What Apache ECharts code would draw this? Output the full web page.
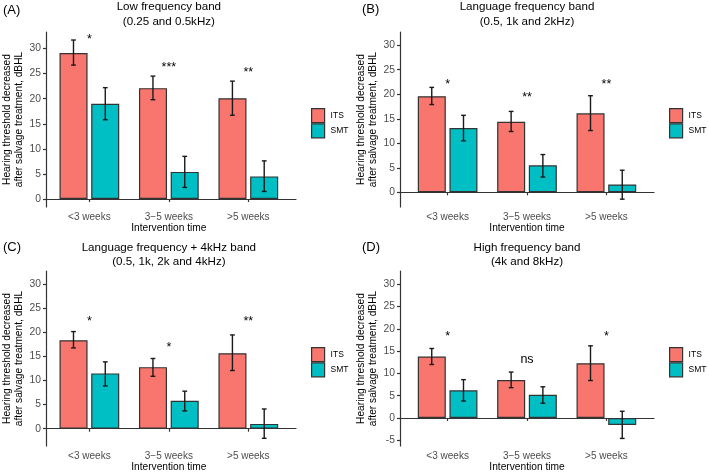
<!DOCTYPE html>
<html>
<head>
<meta charset="utf-8">
<script src="https://cdn.jsdelivr.net/npm/echarts@6/dist/echarts.min.js"></script>
<style>html,body{margin:0;padding:0;background:#fff;}#chart{width:709px;height:473px;}</style>
</head>
<body>
<div id="chart"></div>
<script>
// ---------- data ----------
var categories = ['<3 weeks', '3\u22125 weeks', '>5 weeks'];
var groups = ['ITS', 'SMT'];
var yTicks = [0, 5, 10, 15, 20, 25, 30];
var yTicksD = [-5, 0, 5, 10, 15, 20, 25, 30];

var titleA = 'Low frequency band\n(0.25 and 0.5kHz)';
var itsA = [29.1, 22.1, 20.1];
var itsLoA = [26.7, 19.8, 16.7];
var itsHiA = [31.7, 24.5, 23.5];
var smtA = [19.0, 5.4, 4.5];
var smtLoA = [15.8, 2.3, 1.5];
var smtHiA = [22.2, 8.5, 7.6];
var sigA = ['*', '***', '**'];
var sigYA = [32.3, 26.9, 25.9];

var titleB = 'Language frequency band\n(0.5, 1k and 2kHz)';
var itsB = [19.6, 14.4, 16.1];
var itsLoB = [17.9, 12.4, 12.6];
var itsHiB = [21.4, 16.5, 19.7];
var smtB = [13.1, 5.5, 1.6];
var smtLoB = [10.5, 3.1, -1.4];
var smtHiB = [15.7, 7.7, 4.5];
var sigB = ['*', '**', '**'];
var sigYB = [22.6, 20.0, 22.6];

var titleC = 'Language frequency + 4kHz band\n(0.5, 1k, 2k and 4kHz)';
var itsC = [18.4, 12.8, 15.7];
var itsLoC = [16.8, 10.9, 12.1];
var itsHiC = [20.2, 14.6, 19.5];
var smtC = [11.5, 5.8, 1.0];
var smtLoC = [8.9, 3.7, -2.0];
var smtHiC = [13.9, 7.8, 4.1];
var sigC = ['*', '*', '**'];
var sigYC = [22.9, 17.5, 22.9];

var titleD = 'High frequency band\n(4k and 8kHz)';
var itsD = [13.8, 8.5, 12.3];
var itsLoD = [12.0, 6.8, 8.4];
var itsHiD = [15.6, 10.3, 16.2];
var smtD = [6.2, 5.2, -1.6];
var smtLoD = [3.8, 3.3, -4.6];
var smtHiD = [8.6, 7.0, 1.5];
var sigD = ['*', 'ns', '*'];
var sigYD = [18.9, 12.8, 18.9];

var yNameText = 'Hearing threshold decreased\nafter salvage treatment, dBHL';
var xNameText = 'Intervention time';

// ---------- layout / style ----------
var FONT = 'Liberation Sans';
var COLORS = {ITS: '#F8766D', SMT: '#00BFC4'};
var panels = [
  {tag: '(A)', title: titleA, its: itsA, itsLo: itsLoA, itsHi: itsHiA, smt: smtA, smtLo: smtLoA, smtHi: smtHiA, sig: sigA, sigY: sigYA, ticks: yTicks,
   x0: 41.7, x1: 296, top: 32, bottom: 207, ymin: -1.6, ymax: 33.3, tagX: 3, tagY: 4, titleY: 0, legX: 311, legY: 108},
  {tag: '(B)', title: titleB, its: itsB, itsLo: itsLoB, itsHi: itsHiB, smt: smtB, smtLo: smtLoB, smtHi: smtHiB, sig: sigB, sigY: sigYB, ticks: yTicks,
   x0: 400, x1: 654, top: 32, bottom: 207, ymin: -3.0, ymax: 32.7, tagX: 362, tagY: 3, titleY: 0, legX: 669, legY: 108},
  {tag: '(C)', title: titleC, its: itsC, itsLo: itsLoC, itsHi: itsHiC, smt: smtC, smtLo: smtLoC, smtHi: smtHiC, sig: sigC, sigY: sigYC, ticks: yTicks,
   x0: 41.7, x1: 296, top: 271, bottom: 446, ymin: -3.6, ymax: 32.8, tagX: 3, tagY: 241, titleY: 240.5, legX: 311, legY: 347},
  {tag: '(D)', title: titleD, its: itsD, itsLo: itsLoD, itsHi: itsHiD, smt: smtD, smtLo: smtLoD, smtHi: smtHiD, sig: sigD, sigY: sigYD, ticks: yTicksD,
   x0: 400, x1: 654, top: 271, bottom: 446, ymin: -6.3, ymax: 33.0, tagX: 362, tagY: 241, titleY: 240.5, legX: 669, legY: 347}
];

function errRender(offsetFrac) {
  return function (params, api) {
    var c = api.value(0), lo = api.value(1), hi = api.value(2);
    var band = api.size([1, 0])[0];
    var pLo = api.coord([c, lo]), pHi = api.coord([c, hi]);
    var x = pLo[0] + offsetFrac * band;
    var hw = 0.03 * band;
    var st = {stroke: '#1a1a1a', lineWidth: 1.4};
    return {type: 'group', children: [
      {type: 'line', shape: {x1: x, y1: pLo[1], x2: x, y2: pHi[1]}, style: st},
      {type: 'line', shape: {x1: x - hw, y1: pLo[1], x2: x + hw, y2: pLo[1]}, style: st},
      {type: 'line', shape: {x1: x - hw, y1: pHi[1], x2: x + hw, y2: pHi[1]}, style: st}
    ]};
  };
}
function sigRender(texts) {
  return function (params, api) {
    var p = api.coord([api.value(0), api.value(1)]);
    var t = texts[params.dataIndex];
    var shift = (t === 'ns') ? -1 : 3;
    return {type: 'text', x: p[0], y: p[1] + shift,
      style: {text: t, fontSize: 12.5, fontFamily: FONT, fill: '#000', align: 'center', verticalAlign: 'middle'}};
  };
}

var option = {animation: false, backgroundColor: '#fff', title: [], legend: [], grid: [], xAxis: [], yAxis: [], series: []};

panels.forEach(function (P, i) {
  var wide = 2 * i, narrow = 2 * i + 1;
  var band = (P.x1 - P.x0) / 3.2;
  var h = P.bottom - P.top;
  option.grid.push({left: P.x0, top: P.top, width: P.x1 - P.x0, height: h});
  option.grid.push({left: P.x0 + 0.1 * band, top: P.top, width: 3 * band, height: h});

  option.title.push({text: P.title, left: (P.x0 + P.x1) / 2, top: P.titleY, textAlign: 'center', padding: 0,
    textStyle: {fontSize: 11.6, fontWeight: 'normal', color: '#000', fontFamily: FONT, lineHeight: 14.4}});
  option.title.push({text: P.tag, left: P.tagX, top: P.tagY, padding: 0,
    textStyle: {fontSize: 13, fontWeight: 'normal', color: '#000', fontFamily: FONT}});

  option.legend.push({data: groups, orient: 'vertical', left: P.legX, top: P.legY, padding: 0,
    itemWidth: 13, itemHeight: 14, itemGap: 0, icon: 'rect', selectedMode: false,
    itemStyle: {borderColor: '#333', borderWidth: 1.2},
    textStyle: {fontSize: 8.5, color: '#000', fontFamily: FONT, padding: [0, 0, 0, 1]}});

  // wide grid: visible axis lines, y ticks, y labels
  option.xAxis.push({gridIndex: wide, type: 'value', min: 0, max: 1,
    axisLine: {show: true, lineStyle: {color: '#333', width: 1.2}},
    axisTick: {show: false}, axisLabel: {show: false}, splitLine: {show: false}});
  option.yAxis.push({gridIndex: wide, type: 'value', min: P.ymin, max: P.ymax,
    axisLine: {show: true, lineStyle: {color: '#333', width: 1.2}},
    axisTick: {show: true, length: 3, customValues: P.ticks, lineStyle: {color: '#333', width: 1.2}},
    axisLabel: {customValues: P.ticks, fontSize: 10.3, color: '#4d4d4d', fontFamily: FONT, margin: 5},
    splitLine: {show: false},
    name: yNameText, nameLocation: 'middle', nameGap: 15.5,
    nameTextStyle: {fontSize: 10.2, color: '#000', fontFamily: FONT, lineHeight: 12.3}});

  // narrow grid: bars on category axis
  option.xAxis.push({gridIndex: narrow, type: 'category', data: categories,
    axisLine: {show: false},
    axisTick: {show: true, alignWithLabel: true, length: 3, lineStyle: {color: '#333', width: 1.2}},
    axisLabel: {fontSize: 10, color: '#4d4d4d', fontFamily: FONT, margin: 5},
    name: xNameText, nameLocation: 'middle', nameGap: 15,
    nameTextStyle: {fontSize: 10.2, color: '#000', fontFamily: FONT}});
  option.yAxis.push({gridIndex: narrow, type: 'value', min: P.ymin, max: P.ymax, show: false});

  option.series.push({type: 'bar', name: 'ITS', xAxisIndex: narrow, yAxisIndex: narrow, data: P.its,
    barWidth: '35.3%', barGap: '13%',
    itemStyle: {color: COLORS.ITS, borderColor: '#333', borderWidth: 1.2}});
  option.series.push({type: 'bar', name: 'SMT', xAxisIndex: narrow, yAxisIndex: narrow, data: P.smt,
    barWidth: '35.3%', barGap: '13%',
    itemStyle: {color: COLORS.SMT, borderColor: '#333', borderWidth: 1.2}});

  option.series.push({type: 'custom', name: 'ITS err', xAxisIndex: narrow, yAxisIndex: narrow,
    renderItem: errRender(-0.2), encode: {x: 0, y: [1, 2]}, z: 5,
    data: P.its.map(function (v, k) { return [k, P.itsLo[k], P.itsHi[k]]; })});
  option.series.push({type: 'custom', name: 'SMT err', xAxisIndex: narrow, yAxisIndex: narrow,
    renderItem: errRender(0.2), encode: {x: 0, y: [1, 2]}, z: 5,
    data: P.smt.map(function (v, k) { return [k, P.smtLo[k], P.smtHi[k]]; })});
  option.series.push({type: 'custom', name: 'sig', xAxisIndex: narrow, yAxisIndex: narrow,
    renderItem: sigRender(P.sig), encode: {x: 0, y: 1}, z: 6,
    data: P.sigY.map(function (v, k) { return [k, v]; })});
});

var chart = echarts.init(document.getElementById('chart'), null, {renderer: 'canvas'});
chart.setOption(option);
</script>
</body>
</html>
